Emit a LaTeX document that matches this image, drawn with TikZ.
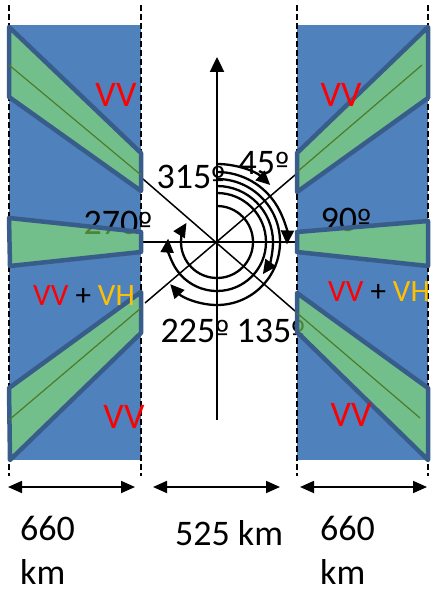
\documentclass[tikz,border=0pt]{standalone}
\usepackage{fontspec}
\setmainfont{Carlito}
\newfontfamily\ordfont{DejaVu Sans}
\usetikzlibrary{arrows.meta}
\definecolor{SwathBlue}{RGB}{79,129,189}
\definecolor{SwathEdge}{RGB}{56,93,138}
\definecolor{BeamGreen}{RGB}{143,242,100}
\definecolor{BeamLine}{RGB}{79,122,40}
\definecolor{PolRed}{RGB}{255,0,0}
\definecolor{PolGold}{RGB}{255,192,0}
\newcommand{\degmark}{{\ordfont\fontsize{30}{30}\selectfont º}}

\begin{document}
\begin{tikzpicture}[
    x=1pt,y=1pt,
    swath/.style={fill=SwathBlue, draw=none},
    guide/.style={line width=1.6pt, dash pattern=on 6pt off 3pt},
    beam/.style={draw=SwathEdge, line width=4.5pt, line join=round, fill=BeamGreen, fill opacity=0.55},
    midline/.style={draw=BeamLine, line width=1.2pt},
    axis/.style={line width=1.5pt},
    turn/.style={line width=2.3pt, -{Triangle[length=14pt,width=13pt]}},
    span/.style={line width=1.8pt, {Triangle[length=14pt,width=12pt]}-{Triangle[length=14pt,width=12pt]}},
    deg/.style={font=\fontsize{36}{40}\selectfont, inner sep=0pt},
    pol/.style={font=\fontsize{36}{40}\selectfont, text=PolRed, inner sep=0pt},
    mix/.style={font=\fontsize{31}{36}\selectfont, inner sep=0pt, anchor=west},
    dist/.style={font=\fontsize{36}{44}\selectfont, align=left, inner sep=0pt}
  ]
    \useasboundingbox (0,0) rectangle (433,-593);
    % swaths
    \fill[swath] (9,-25) rectangle (141,-460);
    \fill[swath] (297,-25) rectangle (428,-460);
    \foreach \x in {9,141,297,428} {\draw[guide] (\x,-5) -- (\x,-476);}
    % axes
    \coordinate (ctr) at (217,-242);
    \coordinate (up) at (217,-57);
    \coordinate (down) at (217,-420);
    \draw[axis] (141,-242) -- (297,-242);
    \draw[axis] (143,-179) -- (295,-311);
    \draw[axis] (145,-303) -- (295,-175);
    \draw[axis, line width=2.4pt, -{Triangle[length=15pt,width=14pt]}] (down) -- (up);
    \foreach \r/\e in {78/47, 70/-2, 56/-35, 63/-138, 49/-184, 36/-212} {
      \draw[turn] (ctr) ++(90:\r) arc[start angle=90, end angle=\e, radius=\r];
    }
    % angles
    \node[deg] (d315) at (191,-177) {315\degmark};
    \node[deg] (d45) at (264,-163) {45\degmark};
    \node[deg] (d270) at (118,-223) {270\degmark};
    \node[deg] (d90) at (346,-220) {90\degmark};
    \node[deg] (d225) at (195,-331) {225\degmark};
    \node[deg] (d135) at (271,-331) {135\degmark};
    % beams
    \filldraw[beam] (9,-27) -- (141,-153) -- (141,-191) -- (9,-97) -- cycle;
    \draw[midline] (9,-65) -- (141,-175);
    \filldraw[beam] (9,-218) -- (141,-232) -- (141,-252) -- (10,-266) -- cycle;
    \filldraw[beam] (141,-292) -- (141,-333) -- (10,-460) -- (9,-388) -- cycle;
    \draw[midline] (9,-420) -- (141,-308);
    \filldraw[beam] (428,-27) -- (428,-98) -- (297,-192) -- (297,-153) -- cycle;
    \draw[midline] (422,-65) -- (297,-172);
    \filldraw[beam] (297,-232) -- (428,-221) -- (428,-266) -- (297,-252) -- cycle;
    \filldraw[beam] (297,-293) -- (297,-332) -- (428,-460) -- (428,-388) -- cycle;
    \draw[midline] (297,-313) -- (420,-418);
    % polarisations
    \node[pol] (vv1) at (116,-95) {VV};
    \node[pol] (vv2) at (341,-95) {VV};
    \node[pol] (vv3) at (124,-417) {VV};
    \node[pol] (vv4) at (351,-415) {VV};
    \node[mix] (mixl) at (33,-296) {\textcolor{PolRed}{VV} + \textcolor{PolGold}{VH}};
    \node[mix] (mixr) at (328,-292) {\textcolor{PolRed}{VV} + \textcolor{PolGold}{VH}};
    % widths
    \coordinate (s1a) at (8,-487);   \coordinate (s1b) at (135,-487);
    \coordinate (s2a) at (153,-487); \coordinate (s2b) at (280,-487);
    \coordinate (s3a) at (300,-487); \coordinate (s3b) at (427,-487);
    \draw[span] (s1a) -- (s1b);
    \draw[span] (s2a) -- (s2b);
    \draw[span] (s3a) -- (s3b);
    \node[dist, anchor=north west] (w1) at (20,-516) {660\\km};
    \node[dist] (w2) at (229,-533) {525 km};
    \node[dist, anchor=north west] (w3) at (320,-516) {660\\km};
  \end{tikzpicture}
\end{document}
